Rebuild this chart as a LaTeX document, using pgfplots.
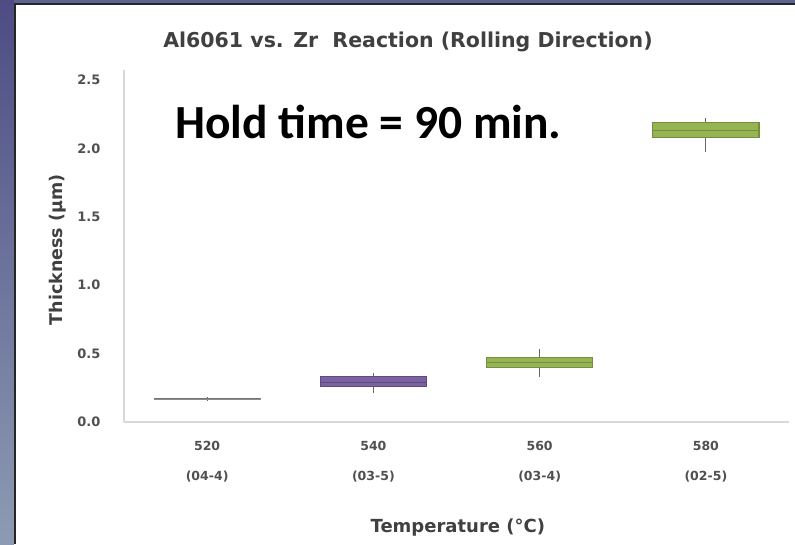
\documentclass[border=0pt]{standalone}
\usepackage{fontspec}
\setmainfont{DejaVu Sans}
\newfontfamily\calibri{Carlito}
\usepackage{pgfplots}
\pgfplotsset{compat=1.18}
\usepgfplotslibrary{statistics}
\definecolor{bgtop}{HTML}{4D4C84}
\definecolor{bgmid}{HTML}{61719B}
\definecolor{bgbot}{HTML}{8C9BB3}
\definecolor{bgstrip}{HTML}{5A668F}
\definecolor{purp}{HTML}{7D62A0}
\definecolor{purpd}{HTML}{5E4A80}
\definecolor{grn}{HTML}{96B453}
\definecolor{grnd}{HTML}{748F3C}
\definecolor{txt}{HTML}{505050}
\begin{document}
\begin{tikzpicture}[x=1pt,y=1pt]
\useasboundingbox (0,0) rectangle (795,544);
\fill[white] (0,0) rectangle (795,544);
\shade[top color=bgtop, middle color=bgmid, bottom color=bgbot] (0,0) rectangle (14,544);
\fill[bgstrip] (14,541) rectangle (795,544);
\fill[black!85] (14,0) rectangle (16,541);
\fill[black!85] (14,539) rectangle (795,541);
\begin{axis}[
  at={(124pt,122pt)}, anchor=south west,
  scale only axis, width=665pt, height=352pt,
  xmin=-0.5, xmax=3.5, ymin=0, ymax=2.573,
  axis x line*=bottom, axis y line*=left,
  axis line style={draw=black!15, line width=1.5pt, -},
  major tick length=0pt,
  xtick={0,1,2,3},
  xticklabels={{520\\[15pt](04-4)},{540\\[15pt](03-5)},{560\\[15pt](03-4)},{580\\[15pt](02-5)}},
  xticklabel style={align=center, font=\bfseries\fontsize{12.5}{15}\selectfont, text=txt, yshift=-16pt},
  ytick={0,0.5,1,1.5,2,2.5},
  yticklabel style={font=\bfseries\fontsize{13}{15}\selectfont, text=txt, xshift=-20pt,
    /pgf/number format/.cd, fixed, fixed zerofill, precision=1},
  /pgf/number format/assume math mode=true,
  title={Al6061 vs. Zr\ \ Reaction (Rolling Direction)},
  title style={at={(axis description cs:0.427,1.064)}, anchor=center,
    font=\bfseries\fontsize{20.5}{24}\selectfont, text=black!75},
  xlabel={Temperature (\textdegree C)},
  xlabel style={at={(axis description cs:0.502,-0.300)}, anchor=center,
    font=\bfseries\fontsize{18}{22}\selectfont, text=black!75},
  ylabel={Thickness (μm)},
  ylabel style={at={(axis description cs:-0.0992,0.489)}, anchor=center,
    font=\bfseries\fontsize{17.5}{21}\selectfont, text=black!75},
  boxplot/draw direction=y,
  boxplot/every whisker/.style={draw=black!60, line width=1pt},
  clip=false,
]
\addplot[boxplot prepared={draw position=0, lower whisker=0.155, lower quartile=0.165,
  median=0.17, upper quartile=0.175, upper whisker=0.185, box extend=0.64, whisker extend=0,
  every median/.style={draw=black!55, line width=1pt}},
  fill=black!45, draw=black!45, line width=0.8pt] coordinates {};
\addplot[boxplot prepared={draw position=1, lower whisker=0.21, lower quartile=0.26,
  median=0.29, upper quartile=0.33, upper whisker=0.36, box extend=0.64, whisker extend=0,
  every median/.style={draw=purpd, line width=0.6pt}},
  fill=purp, draw=purpd, line width=1.2pt] coordinates {};
\addplot[boxplot prepared={draw position=2, lower whisker=0.33, lower quartile=0.40,
  median=0.44, upper quartile=0.47, upper whisker=0.53, box extend=0.64, whisker extend=0,
  every median/.style={draw=grnd, line width=0.6pt}},
  fill=grn, draw=grnd, line width=1.2pt] coordinates {};
\addplot[boxplot prepared={draw position=3, lower whisker=1.97, lower quartile=2.08,
  median=2.13, upper quartile=2.19, upper whisker=2.22, box extend=0.64, whisker extend=0,
  every median/.style={draw=grnd, line width=0.6pt}},
  fill=grn, draw=grnd, line width=1.2pt] coordinates {};
\node[font=\calibri\bfseries\fontsize{47.5}{52}\selectfont, anchor=center]
  at (axis description cs:0.3677,0.852) {Hold time = 90 min.};
\end{axis}
\end{tikzpicture}
\end{document}
